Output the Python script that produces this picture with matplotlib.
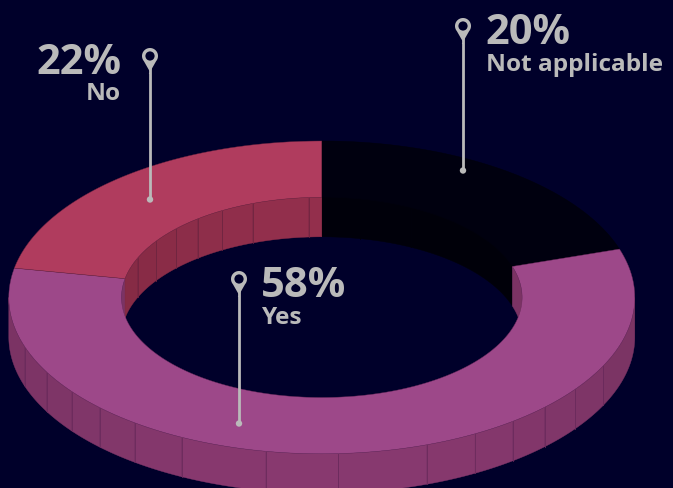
import numpy as np
import matplotlib.pyplot as plt
from matplotlib.colors import to_rgb
from matplotlib.patches import Polygon, Circle

labels = ["Not applicable", "Yes", "No"]
shares = [20, 58, 22]
top_colors = ["#00000f", "#9d4889", "#b03c5e"]
wall_colors = ["#00000a", "#88396f", "#932f4c"]
edge_colors = ["#00000a", "#6a2a5c", "#6e2540"]

# facet seams on the walls, degrees clockwise from the top
outer_seams = [116, 126, 134.6, 142.4, 150.7, 160.4, 177, 190.3, 206.6, 216.7, 225.2, 233, 241.5, 251.6]
inner_seams = [11, 26.5, 293.2, 304.2, 313.4, 321.7, 330.2, 339.8, 356.2]

BG = "#00002a"
TEXT = "#bababa"
cx, cy = 321.8, 298.4
rx, ry = 313, 156.4
inner = 0.64
depth = 39.5


def ring_xy(theta, scale, drop=0):
    t = np.radians(theta)
    return np.column_stack([cx + rx * scale * np.sin(t), cy - ry * scale * np.cos(t) + drop])


def wall(ax, a, b, scale, color):
    # one facet of a wall between angles a and b
    th = np.linspace(a, b, 40)
    pts = np.vstack([ring_xy(th, scale), ring_xy(th[::-1], scale, depth)])
    mid = np.radians((a + b) / 2)
    shade = 1 - 0.1 * abs(np.sin(mid)) ** 2
    rgb = tuple(c * shade for c in to_rgb(color))
    ax.add_patch(Polygon(pts, closed=True, fc=rgb, ec=rgb, lw=0.3))


def walls(ax, a, b, lo, hi, scale, seams, color, seam):
    start, stop = max(a, lo), min(b, hi)
    if start >= stop:
        return
    inside = sorted(s for s in seams if start < s < stop)
    cuts = [start] + inside + [stop]
    for p, q in zip(cuts[:-1], cuts[1:]):
        wall(ax, p, q, scale, color)
    for s in inside:
        top = ring_xy(np.array([s]), scale)[0]
        ax.plot([top[0], top[0]], [top[1], top[1] + depth], color=seam, lw=0.6, zorder=2)


def pin(ax, x, ytop, ydot):
    # teardrop head, stem and end dot of a callout
    yc = ytop + 9
    th = np.linspace(-130, 130, 60)
    head = np.column_stack([x + 8 * np.sin(np.radians(th)), yc - 8 * np.cos(np.radians(th))])
    head = np.vstack([[x + 1.2, yc + 18], head, [x - 1.2, yc + 18]])
    ax.add_patch(Polygon(head, closed=True, fc=TEXT, ec="none", zorder=5))
    ax.add_patch(Circle((x, yc), 4.6, fc=BG, ec="none", zorder=6))
    ax.plot([x, x], [yc + 10, ydot], color=TEXT, lw=2, zorder=5, solid_capstyle="butt")
    ax.add_patch(Circle((x, ydot), 3.2, fc=TEXT, ec="none", zorder=5))


fig = plt.figure(figsize=(6.73, 4.89), dpi=100, facecolor=BG)
ax = fig.add_axes([0, 0, 1, 1])
ax.set_xlim(0, 673)
ax.set_ylim(489, 0)
ax.axis("off")

edges = np.concatenate([[0], np.cumsum(shares)]) / sum(shares) * 360

# back inner walls, then front outer walls, top faces go over them
for i in range(len(shares)):
    a, b = edges[i], edges[i + 1]
    walls(ax, a, b, 0, 90, inner, inner_seams, wall_colors[i], edge_colors[i])
    walls(ax, a, b, 270, 360, inner, inner_seams, wall_colors[i], edge_colors[i])
    walls(ax, a, b, 90, 270, 1, outer_seams, wall_colors[i], edge_colors[i])

for i in range(len(shares)):
    th = np.linspace(edges[i], edges[i + 1], 200)
    pts = np.vstack([ring_xy(th, 1), ring_xy(th[::-1], inner)])
    ax.add_patch(Polygon(pts, closed=True, fc=top_colors[i], ec=edge_colors[i], lw=0.3, zorder=3))

font = "Open Sans"
big = 30
small = 17.6
pin(ax, 463, 18, 171.5)
ax.text(485, 44, f"{shares[0]}%", color=TEXT, fontsize=big, family=font, weight="bold", zorder=7)
ax.text(486, 71, labels[0], color=TEXT, fontsize=small, family=font, weight="bold", zorder=7)

pin(ax, 239, 271, 424.5)
ax.text(261, 297, f"{shares[1]}%", color=TEXT, fontsize=big, family=font, weight="bold", zorder=7)
ax.text(261, 323.5, labels[1], color=TEXT, fontsize=small, family=font, weight="bold", zorder=7)

pin(ax, 150, 48, 200.5)
ax.text(121, 74, f"{shares[2]}%", color=TEXT, fontsize=big, family=font, weight="bold", ha="right", zorder=7)
ax.text(121, 100.5, labels[2], color=TEXT, fontsize=small, family=font, weight="bold", ha="right", zorder=7)

fig.savefig("out.png", dpi=100, facecolor=BG)
